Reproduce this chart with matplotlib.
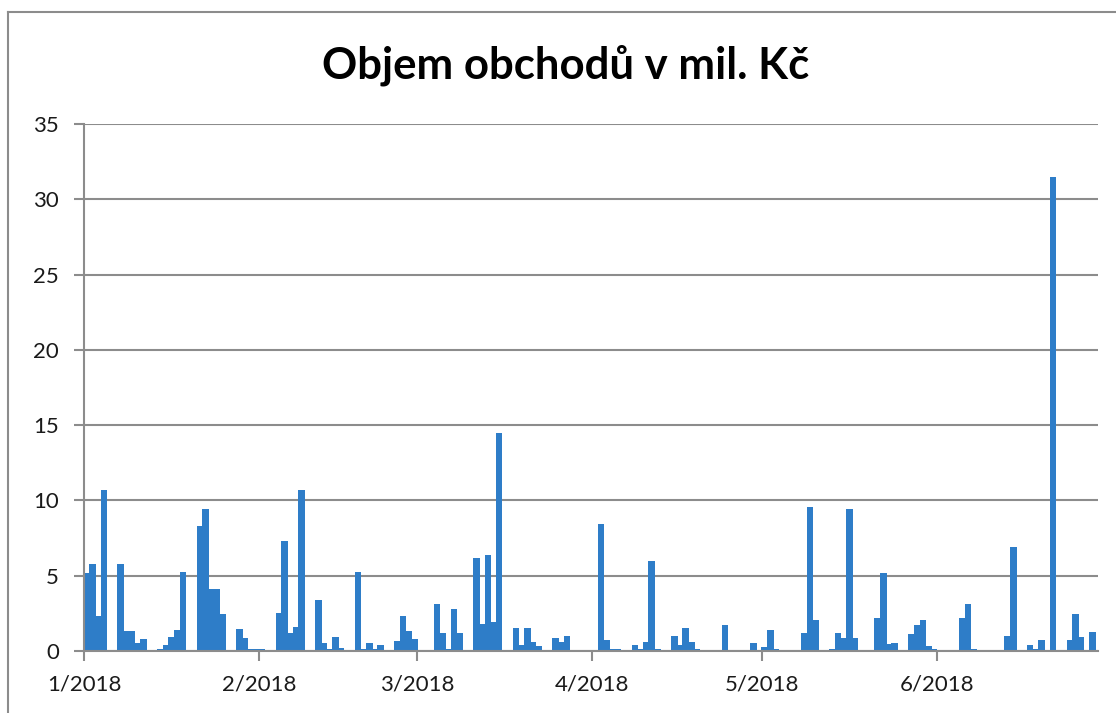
import matplotlib
matplotlib.use("Agg")
import matplotlib.pyplot as plt
import matplotlib.dates as mdates
from matplotlib.lines import Line2D
import pandas as pd

# denni objem obchodu (mil. Kc), obchodni dny 1-6/2018
dates = [
    "2018-01-02", "2018-01-03", "2018-01-04", "2018-01-05",
    "2018-01-08", "2018-01-09", "2018-01-10", "2018-01-11", "2018-01-12",
    "2018-01-15", "2018-01-16", "2018-01-17", "2018-01-18", "2018-01-19",
    "2018-01-22", "2018-01-23", "2018-01-24", "2018-01-25", "2018-01-26",
    "2018-01-29", "2018-01-30", "2018-01-31", "2018-02-01", "2018-02-02",
    "2018-02-05", "2018-02-06", "2018-02-07", "2018-02-08", "2018-02-09",
    "2018-02-12", "2018-02-13", "2018-02-14", "2018-02-15", "2018-02-16",
    "2018-02-19", "2018-02-20", "2018-02-21", "2018-02-22", "2018-02-23",
    "2018-02-26", "2018-02-27", "2018-02-28", "2018-03-01", "2018-03-02",
    "2018-03-05", "2018-03-06", "2018-03-07", "2018-03-08", "2018-03-09",
    "2018-03-12", "2018-03-13", "2018-03-14", "2018-03-15", "2018-03-16",
    "2018-03-19", "2018-03-20", "2018-03-21", "2018-03-22", "2018-03-23",
    "2018-03-26", "2018-03-27", "2018-03-28", "2018-03-29",
    "2018-04-03", "2018-04-04", "2018-04-05", "2018-04-06",
    "2018-04-09", "2018-04-10", "2018-04-11", "2018-04-12", "2018-04-13",
    "2018-04-16", "2018-04-17", "2018-04-18", "2018-04-19", "2018-04-20",
    "2018-04-23", "2018-04-24", "2018-04-25", "2018-04-26", "2018-04-27",
    "2018-04-30", "2018-05-02", "2018-05-03", "2018-05-04",
    "2018-05-07", "2018-05-09", "2018-05-10", "2018-05-11",
    "2018-05-14", "2018-05-15", "2018-05-16", "2018-05-17", "2018-05-18",
    "2018-05-21", "2018-05-22", "2018-05-23", "2018-05-24", "2018-05-25",
    "2018-05-28", "2018-05-29", "2018-05-30", "2018-05-31", "2018-06-01",
    "2018-06-04", "2018-06-05", "2018-06-06", "2018-06-07", "2018-06-08",
    "2018-06-11", "2018-06-12", "2018-06-13", "2018-06-14", "2018-06-15",
    "2018-06-18", "2018-06-19", "2018-06-20", "2018-06-21", "2018-06-22",
    "2018-06-25", "2018-06-26", "2018-06-27", "2018-06-28", "2018-06-29",
]
volumes = [
    5.2, 5.8, 2.3, 10.7,
    5.8, 1.3, 1.3, 0.5, 0.8,
    0.15, 0.4, 0.9, 1.4, 5.25,
    8.3, 9.45, 4.1, 4.1, 2.45,
    1.45, 0.85, 0.1, 0.15, 0.15,
    2.55, 7.3, 1.2, 1.6, 10.7,
    3.4, 0.5, 0.1, 0.9, 0.2,
    5.25, 0.1, 0.5, 0.1, 0.4,
    0.65, 2.3, 1.35, 0.8, 0.0,
    3.15, 1.2, 0.1, 2.8, 1.2,
    6.2, 1.8, 6.4, 1.9, 14.5,
    1.55, 0.4, 1.55, 0.6, 0.3,
    0.85, 0.6, 1.0, 0.0,
    8.45, 0.75, 0.1, 0.1,
    0.4, 0.1, 0.6, 5.95, 0.1,
    1.0, 0.4, 1.55, 0.6, 0.15,
    0.08, 0.08, 1.7, 0.08, 0.08,
    0.5, 0.25, 1.4, 0.15,
    0.08, 1.2, 9.55, 2.05,
    0.15, 1.2, 0.85, 9.45, 0.85,
    0.08, 2.2, 5.2, 0.45, 0.5,
    1.1, 1.7, 2.05, 0.3, 0.15,
    0.08, 0.08, 2.2, 3.15, 0.1,
    0.05, 0.05, 0.05, 1.0, 6.9,
    0.4, 0.15, 0.75, 0.05, 31.5,
    0.75, 2.45, 0.9, 0.05, 1.25,
]
tick_dates = ["2018-01-02", "2018-02-02", "2018-03-02", "2018-04-02", "2018-05-02", "2018-06-02"]
tick_labels = ["1/2018", "2/2018", "3/2018", "4/2018", "5/2018", "6/2018"]

BLUE = "#2E7DC8"
GRID = "#8C8C8C"
FONT = ["Lato", "DejaVu Sans"]

plt.rcParams["font.family"] = FONT

x = mdates.date2num(pd.to_datetime(dates)) + 0.5
xt = mdates.date2num(pd.to_datetime(tick_dates))

fig = plt.figure(figsize=(11.16, 7.13), dpi=100)
ax = fig.add_axes([84 / 1116, 62 / 713, 1014 / 1116, 527 / 713])

ax.bar(x, volumes, width=1.15, color=BLUE, zorder=3)

ax.set_xlim(xt[0], xt[0] + 179.5)
ax.set_ylim(0, 35)
ax.set_yticks(range(0, 36, 5))
ax.set_xticks(xt)
ax.set_xticklabels(tick_labels)

ax.grid(axis="y", color=GRID, linewidth=1.5, zorder=1)
for s in ["top", "right"]:
    ax.spines[s].set_visible(False)
for s in ["left", "bottom"]:
    ax.spines[s].set_color(GRID)
    ax.spines[s].set_linewidth(1.5)
    ax.spines[s].set_zorder(4)
ax.tick_params(axis="both", colors=GRID, width=1.5, length=7, labelsize=16,
               labelcolor="#1a1a1a")
ax.tick_params(axis="y", pad=11)
ax.tick_params(axis="x", pad=10)

fig.text(566 / 1116, 1 - 65 / 713, "Objem obchodů v mil. Kč", ha="center", va="center",
         fontsize=31.5, fontweight="bold", family=FONT)

# okraj oblasti grafu (oriznuty vpravo a dole)
fig.add_artist(Line2D([8 / 1116, 8 / 1116], [0, 1 - 12 / 713], color=GRID, lw=1.5,
                      transform=fig.transFigure))
fig.add_artist(Line2D([8 / 1116, 1], [1 - 12 / 713, 1 - 12 / 713], color=GRID, lw=1.5,
                      transform=fig.transFigure))

fig.savefig("out.png", dpi=100)
